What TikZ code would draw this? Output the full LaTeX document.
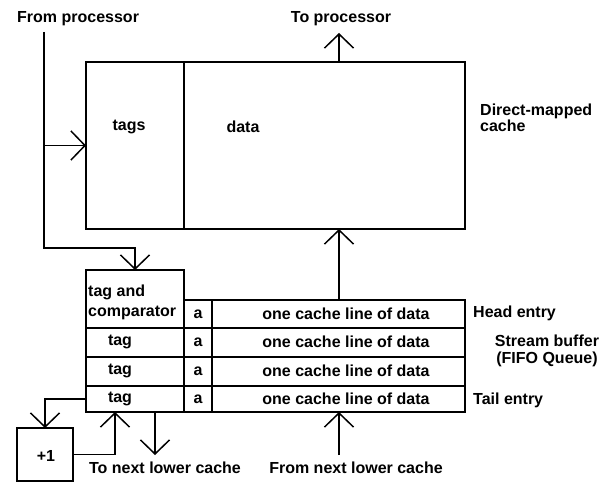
\documentclass[tikz,border=0pt]{standalone}
\usepackage{fontspec}
\setmainfont{Liberation Sans}
\usetikzlibrary{arrows.meta}
\begin{document}
\begin{tikzpicture}[x=1pt,y=-1pt,
  box/.style={draw, line width=1.5pt, inner sep=0pt, outer sep=0pt, anchor=north west},
  lbl/.style={font=\fontsize{16}{16}\selectfont\bfseries, inner sep=0pt},
  conn/.style={line width=1.5pt, -{Straight Barb[length=14pt,width=29pt,line width=1.5pt]}},
  wire/.style={line width=1.5pt}]
\fill[white] (0,0) rectangle (608,484);
\useasboundingbox (0,0) rectangle (608,484);
% cache
\node[box, minimum width=98pt, minimum height=167pt] (ctags) at (86,62) {};
\node[box, minimum width=281pt, minimum height=167pt] (cdata) at (184,62) {};
% stream buffer tag column
\node[box, minimum width=98pt, minimum height=58pt] (tcmp) at (86,270) {};
\node[box, minimum width=98pt, minimum height=29pt] (tag2) at (86,328) {};
\node[box, minimum width=98pt, minimum height=29pt] (tag3) at (86,357) {};
\node[box, minimum width=98pt, minimum height=26pt] (tag4) at (86,386) {};
% a column
\node[box, minimum width=28pt, minimum height=28pt] (a1) at (184,300) {};
\node[box, minimum width=28pt, minimum height=29pt] (a2) at (184,328) {};
\node[box, minimum width=28pt, minimum height=29pt] (a3) at (184,357) {};
\node[box, minimum width=28pt, minimum height=26pt] (a4) at (184,386) {};
% data column
\node[box, minimum width=253pt, minimum height=28pt] (d1) at (212,300) {};
\node[box, minimum width=253pt, minimum height=29pt] (d2) at (212,328) {};
\node[box, minimum width=253pt, minimum height=29pt] (d3) at (212,357) {};
\node[box, minimum width=253pt, minimum height=26pt] (d4) at (212,386) {};
% +1
\node[box, minimum width=56pt, minimum height=53pt] (inc) at (17,428) {};
% coordinates
\coordinate (fp) at (44,32);
\coordinate (bend) at (44,248);
\coordinate (tp) at (339,33);
\coordinate (fnl) at (339,455);
\coordinate (tnl) at (155,455);
\coordinate (retx) at (115,0);
% connectors
\draw[conn] (fp) -- (bend) -| (tcmp.north);
\draw[conn] (fp |- ctags.west) -- (ctags.west);
\draw[conn] (cdata.north -| tp) -- (tp);
\draw[conn] (d1.north -| tp) -- (cdata.south -| tp);
\draw[conn] (fnl) -- (d4.south -| fnl);
\draw[conn] (tag4.south -| tnl) -- (tnl);
\draw[conn] (tag4.west) -| (inc.north);
\draw[conn] (inc.east) -| (tag4.south -| retx);
% labels
\node[lbl, anchor=west] (lfp) at (17,19) {From processor};
\node[lbl] (ltp) at (341,19) {To processor};
\node[lbl] (ltags) at (129,127) {tags};
\node[lbl] (ldata) at (243,127) {data};
\node[lbl, anchor=west, align=left] (ldm) at (480,118) {Direct-mapped\\cache};
\node[lbl, anchor=west, align=left, font=\fontsize{16}{20}\selectfont\bfseries] (ltc) at (88,302) {tag and\\comparator};
\node[lbl] (lt2) at (120,342) {tag};
\node[lbl] (lt3) at (120,371) {tag};
\node[lbl] (lt4) at (120,399) {tag};
\node[lbl] (la1) at (198,314) {a};
\node[lbl] (la2) at (198,342) {a};
\node[lbl] (la3) at (198,371) {a};
\node[lbl] (la4) at (198,399) {a};
\node[lbl] (ld1) at (346,314) {one cache line of data};
\node[lbl] (ld2) at (346,342) {one cache line of data};
\node[lbl] (ld3) at (346,371) {one cache line of data};
\node[lbl] (ld4) at (346,399) {one cache line of data};
\node[lbl, anchor=west] (lhe) at (473,313) {Head entry};
\node[lbl, anchor=west] (lte) at (473,400) {Tail entry};
\node[lbl, align=center, font=\fontsize{16}{17}\selectfont\bfseries] (lsb) at (547,351) {Stream buffer\\(FIFO Queue)};
\node[lbl] (linc) at (46,456) {+1};
\node[lbl] (ltnl) at (165,468) {To next lower cache};
\node[lbl] (lfnl) at (356,468) {From next lower cache};
\end{tikzpicture}
\end{document}
